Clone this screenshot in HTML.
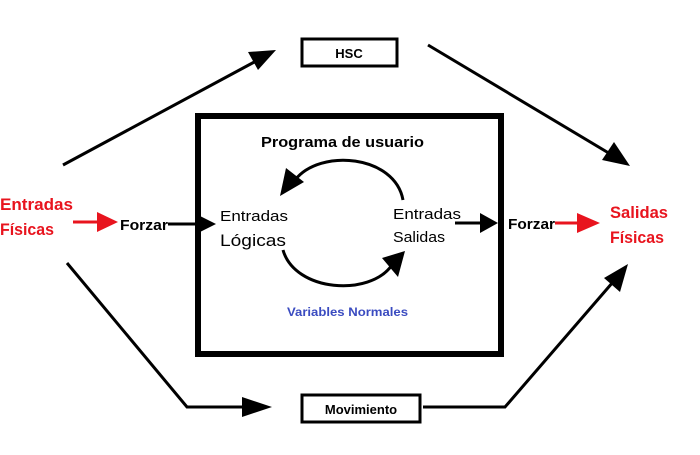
<!DOCTYPE html>
<html><head><meta charset="utf-8"><style>
html,body{margin:0;padding:0;background:#fff;}
svg{display:block;}
text{font-family:"Liberation Sans","DejaVu Sans",sans-serif;}
</style></head><body>
<svg width="700" height="455" viewBox="0 0 700 455" xmlns="http://www.w3.org/2000/svg">
<rect x="198" y="116" width="303" height="238" fill="none" stroke="#000" stroke-width="6"/>
<rect x="302" y="39" width="95" height="27" fill="none" stroke="#000" stroke-width="3"/>
<rect x="302" y="395" width="118" height="27" fill="none" stroke="#000" stroke-width="3"/>
<text x="349" y="58" font-size="13" font-weight="bold" text-anchor="middle">HSC</text>
<text x="361" y="414" font-size="13" font-weight="bold" text-anchor="middle">Movimiento</text>
<text x="261" y="147" font-size="15" font-weight="bold" textLength="163" lengthAdjust="spacingAndGlyphs">Programa de usuario</text>
<text x="287" y="316" font-size="11.5" font-weight="bold" fill="#3a4bc0" textLength="121" lengthAdjust="spacingAndGlyphs">Variables Normales</text>
<text x="220" y="221" font-size="15" textLength="68" lengthAdjust="spacingAndGlyphs">Entradas</text>
<text x="220" y="246" font-size="17" textLength="66" lengthAdjust="spacingAndGlyphs">Lógicas</text>
<text x="393" y="219" font-size="15" textLength="68" lengthAdjust="spacingAndGlyphs">Entradas</text>
<text x="393" y="242" font-size="15" textLength="52" lengthAdjust="spacingAndGlyphs">Salidas</text>
<text x="0" y="210" font-size="17" font-weight="bold" fill="#e8141e" textLength="73" lengthAdjust="spacingAndGlyphs">Entradas</text>
<text x="0" y="235" font-size="17" font-weight="bold" fill="#e8141e" textLength="54" lengthAdjust="spacingAndGlyphs">Físicas</text>
<text x="610" y="218" font-size="17" font-weight="bold" fill="#e8141e" textLength="58" lengthAdjust="spacingAndGlyphs">Salidas</text>
<text x="610" y="243" font-size="17" font-weight="bold" fill="#e8141e" textLength="54" lengthAdjust="spacingAndGlyphs">Físicas</text>
<text x="120" y="230" font-size="15" font-weight="bold" textLength="48" lengthAdjust="spacingAndGlyphs">Forzar</text>
<text x="508" y="229" font-size="15" font-weight="bold" textLength="47" lengthAdjust="spacingAndGlyphs">Forzar</text>
<g stroke="#000" stroke-width="3" fill="none">
<line x1="63" y1="165" x2="258" y2="60"/>
<line x1="428" y1="45" x2="612" y2="155"/>
<polyline points="67,263 187,407 250,407"/>
<polyline points="423,407 505,407 613,282"/>
<line x1="168" y1="224" x2="200" y2="224"/>
<line x1="455" y1="223" x2="485" y2="223"/>
<path d="M403,200 C395,155 320,148 295,180"/>
<path d="M283,250 C295,292 370,297 392,265"/>
</g>
<g stroke="#e8141e" stroke-width="3">
<line x1="73" y1="222" x2="100" y2="222"/>
<line x1="555" y1="223" x2="580" y2="223"/>
</g>
<g fill="#000">
<polygon points="276,50 248,52 258,70"/>
<polygon points="630,166 602,160 614,142"/>
<polygon points="272,407 242,397 242,417"/>
<polygon points="628,264 620,292 604,278"/>
<polygon points="216,224 196,214 196,234"/>
<polygon points="498,223 480,213 480,233"/>
<polygon points="280,196 286,168 304,182"/>
<polygon points="405,251 382,258 398,277"/>
</g>
<g fill="#e8141e">
<polygon points="118,222 97,212 97,232"/>
<polygon points="600,223 577,213 577,233"/>
</g>
</svg>
</body></html>
